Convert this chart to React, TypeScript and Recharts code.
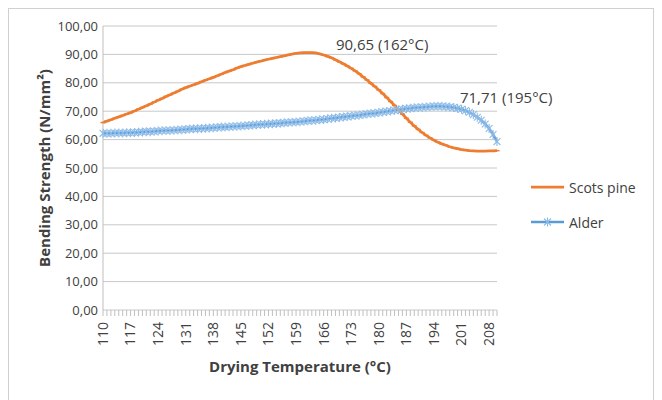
import { LineChart, Line, XAxis, YAxis, CartesianGrid, Label } from "recharts";

// drying temperature, °C (one category per degree)
const temps = [
  110, 111, 112, 113, 114, 115, 116, 117, 118, 119, 120, 121, 122, 123, 124, 125, 126, 127, 128, 129,
  130, 131, 132, 133, 134, 135, 136, 137, 138, 139, 140, 141, 142, 143, 144, 145, 146, 147, 148, 149,
  150, 151, 152, 153, 154, 155, 156, 157, 158, 159, 160, 161, 162, 163, 164, 165, 166, 167, 168, 169,
  170, 171, 172, 173, 174, 175, 176, 177, 178, 179, 180, 181, 182, 183, 184, 185, 186, 187, 188, 189,
  190, 191, 192, 193, 194, 195, 196, 197, 198, 199, 200, 201, 202, 203, 204, 205, 206, 207, 208, 209,
  210,
];

const scotsPine = [
  66.0, 66.5, 67.0, 67.5, 68.0, 68.5, 69.0, 69.5, 70.1, 70.7, 71.3, 71.9, 72.5, 73.2, 73.9, 74.5, 75.2, 75.8, 76.4, 77.0,
  77.7, 78.3, 78.8, 79.3, 79.8, 80.4, 80.9, 81.4, 81.9, 82.5, 83.0, 83.6, 84.1, 84.6, 85.2, 85.7, 86.1, 86.5, 86.9, 87.3,
  87.6, 88.0, 88.3, 88.6, 88.9, 89.2, 89.5, 89.8, 90.1, 90.4, 90.5, 90.6, 90.65, 90.6, 90.5, 90.2, 89.8, 89.3, 88.8, 88.1,
  87.4, 86.7, 85.9, 85.1, 84.2, 83.2, 82.1, 81.0, 79.8, 78.7, 77.5, 76.2, 74.8, 73.4, 72.0, 70.5, 69.0, 67.5, 66.1, 64.8,
  63.6, 62.5, 61.5, 60.6, 59.8, 59.1, 58.5, 58.0, 57.5, 57.1, 56.8, 56.5, 56.3, 56.1, 56.0, 55.9, 55.9, 55.9, 56.0, 56.0,
  56.1,
];

const alder = [
  62.2, 62.2, 62.2, 62.3, 62.3, 62.3, 62.4, 62.4, 62.5, 62.6, 62.7, 62.8, 62.8, 62.9, 63.0, 63.1, 63.2, 63.2, 63.3, 63.4,
  63.5, 63.6, 63.7, 63.8, 63.8, 63.9, 64.0, 64.1, 64.2, 64.3, 64.4, 64.4, 64.5, 64.6, 64.7, 64.8, 64.9, 65.0, 65.1, 65.2,
  65.3, 65.4, 65.5, 65.6, 65.7, 65.8, 65.9, 66.0, 66.1, 66.2, 66.3, 66.5, 66.6, 66.7, 66.8, 67.0, 67.1, 67.3, 67.5, 67.6,
  67.8, 68.0, 68.1, 68.3, 68.5, 68.6, 68.8, 69.0, 69.2, 69.3, 69.5, 69.7, 69.9, 70.1, 70.3, 70.5, 70.7, 70.9, 71.0, 71.2,
  71.3, 71.4, 71.5, 71.6, 71.7, 71.71, 71.7, 71.6, 71.5, 71.3, 71.0, 70.7, 70.2, 69.6, 68.8, 67.9, 66.8, 65.5, 63.9, 61.8,
  59.3,
];

const yTicks = [0, 10, 20, 30, 40, 50, 60, 70, 80, 90, 100];
const labelledTemps = [110, 117, 124, 131, 138, 145, 152, 159, 166, 173, 180, 187, 194, 201, 208];

// annotated maxima
const scotsPeakTemp = 162;
const alderPeakTemp = 195;

const data = temps.map((t, i) => ({ temp: t, scots: scotsPine[i], alder: alder[i] }));

const FONT = "'Open Sans', sans-serif";
const TEXT = "#404040";
const ORANGE = "#ED7D31";
const BLUE = "#5B9BD5";
const STAR = "#8DBBE8";

const fmt = (v: number) => v.toFixed(2).replace(".", ",");

const XTick = (props: any) => {
  const { x, y, payload } = props;
  const show = labelledTemps.includes(payload.value);
  return (
    <g>
      <line x1={x} x2={x} y1={y} y2={y + 6} stroke="#bfbfbf" strokeWidth={1} />
      {show && (
        <text
          x={x}
          y={y + 12}
          dy="0.35em"
          transform={`rotate(-90, ${x}, ${y + 12})`}
          textAnchor="end"
          fontFamily={FONT}
          fontSize={14}
          fill={TEXT}
        >
          {payload.value}
        </text>
      )}
    </g>
  );
};

const DashDot = (props: any) => {
  const { cx, cy, payload } = props;
  if (cx == null || cy == null) return <g />;
  return (
    <g>
      <line x1={cx - 2.5} x2={cx + 2.5} y1={cy} y2={cy} stroke={ORANGE} strokeWidth={1.5} />
      {payload.temp === scotsPeakTemp && (
        <text x={cx + 28} y={cy - 8} dy="0.35em" fontFamily={FONT} fontSize={15} fill={TEXT}>
          {`${fmt(payload.scots)} (${scotsPeakTemp}°C)`}
        </text>
      )}
    </g>
  );
};

const StarDot = (props: any) => {
  const { cx, cy, payload } = props;
  if (cx == null || cy == null) return <g />;
  const r = 4.5;
  const d = 3.4;
  return (
    <g>
      <g stroke={STAR} strokeWidth={1.1}>
        <line x1={cx} x2={cx} y1={cy - r} y2={cy + r} />
        <line x1={cx - d} x2={cx + d} y1={cy - d} y2={cy + d} />
        <line x1={cx - d} x2={cx + d} y1={cy + d} y2={cy - d} />
      </g>
      {payload.temp === alderPeakTemp && (
        <text x={cx + 22} y={cy - 9} dy="0.35em" fontFamily={FONT} fontSize={15} fill={TEXT}>
          {`${fmt(payload.alder)} (${alderPeakTemp}°C)`}
        </text>
      )}
    </g>
  );
};

export default function App() {
  return (
    <div
      style={{
        position: "relative",
        width: 646,
        height: 400,
        border: "1px solid #d0d0d0",
        background: "#fff",
        boxSizing: "border-box",
      }}
    >
      <LineChart width={644} height={390} data={data} margin={{ top: 17, right: 156, bottom: 23, left: 0 }}>
        <CartesianGrid vertical={false} stroke="#c8c8c8" />
        <XAxis
          dataKey="temp"
          interval={0}
          tick={<XTick />}
          tickLine={false}
          axisLine={false}
          tickSize={0}
          tickMargin={0}
          height={66}
        >
          <Label
            content={({ viewBox }: any) => (
              <text
                x={viewBox.x + viewBox.width / 2}
                y={viewBox.y + viewBox.height - 4}
                textAnchor="middle"
                fontFamily={FONT}
                fontSize={15}
                fontWeight={700}
                fill={TEXT}
              >
                Drying Temperature (°C)
              </text>
            )}
          />
        </XAxis>
        <YAxis
          domain={[0, 100]}
          ticks={yTicks}
          tickFormatter={fmt}
          width={94}
          tickLine={false}
          tickSize={3}
          tickMargin={2}
          axisLine={{ stroke: "#bfbfbf" }}
          tick={{ fontFamily: FONT, fontSize: 13, fill: TEXT }}
        >
          <Label
            content={({ viewBox }: any) => {
              const x = 36;
              const y = viewBox.y + viewBox.height / 2;
              return (
                <text
                  x={x}
                  y={y}
                  dy="0.35em"
                  transform={`rotate(-90, ${x}, ${y})`}
                  textAnchor="middle"
                  fontFamily={FONT}
                  fontSize={15}
                  fontWeight={700}
                  fill={TEXT}
                >
                  Bending Strength (N/mm²)
                </text>
              );
            }}
          />
        </YAxis>
        <Line
          dataKey="scots"
          name="Scots pine"
          stroke={ORANGE}
          strokeWidth={2.75}
          dot={(p: any) => <DashDot key={`s${p.index}`} {...p} />}
          isAnimationActive={false}
        />
        <Line
          dataKey="alder"
          name="Alder"
          stroke={BLUE}
          strokeWidth={2.5}
          dot={(p: any) => <StarDot key={`a${p.index}`} {...p} />}
          isAnimationActive={false}
        />
      </LineChart>
      <div style={{ position: "absolute", left: 521, top: 168, fontFamily: FONT, fontSize: 14, color: TEXT }}>
        <div style={{ display: "flex", alignItems: "center", height: 20 }}>
          <svg width={36} height={12}>
            <line x1={1} x2={34} y1={6} y2={6} stroke={ORANGE} strokeWidth={2.75} />
          </svg>
          <span style={{ marginLeft: 3 }}>Scots pine</span>
        </div>
        <div style={{ display: "flex", alignItems: "center", height: 20, marginTop: 15 }}>
          <svg width={36} height={12}>
            <line x1={1} x2={34} y1={6} y2={6} stroke={BLUE} strokeWidth={2.5} />
            <g stroke={STAR} strokeWidth={1.1}>
              <line x1={17.5} x2={17.5} y1={1.5} y2={10.5} />
              <line x1={14} x2={21} y1={2.5} y2={9.5} />
              <line x1={14} x2={21} y1={9.5} y2={2.5} />
            </g>
          </svg>
          <span style={{ marginLeft: 3 }}>Alder</span>
        </div>
      </div>
    </div>
  );
}
